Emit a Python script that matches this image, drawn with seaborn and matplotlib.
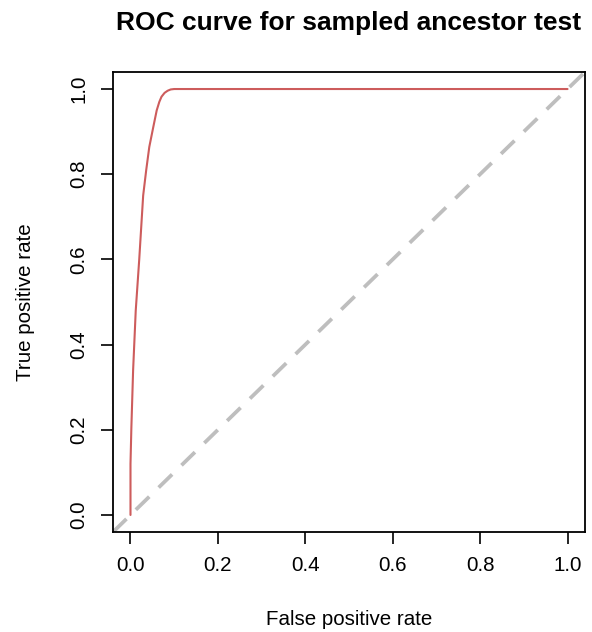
import seaborn as sns
import matplotlib.pyplot as plt
import pandas as pd

# ROC points
fpr = [0.0, 0.0, 0.002, 0.006, 0.012, 0.02, 0.029, 0.036, 0.043, 0.052, 0.06, 0.066, 0.071, 0.078, 0.085, 0.092, 0.1, 1.0]
tpr = [0.0, 0.12, 0.205, 0.34, 0.48, 0.6, 0.75, 0.81, 0.864, 0.91, 0.95, 0.97, 0.982, 0.991, 0.996, 0.999, 1.0, 1.0]
ticks = [0.0, 0.2, 0.4, 0.6, 0.8, 1.0]

sns.set_style("ticks")
plt.rcParams['font.family'] = ['Liberation Sans', 'DejaVu Sans']
plt.rcParams['text.color'] = 'black'

fig = plt.figure(figsize=(5.92, 6.32), dpi=100)
ax = fig.add_axes([0.1909, 0.1582, 0.7973, 0.7279])

ax.axline((0, 0), (1, 1), color="#BEBEBE", lw=2.7, ls=(0, (5, 3.5)), zorder=1)
roc = pd.DataFrame({"fpr": fpr, "tpr": tpr})
sns.lineplot(data=roc, x="fpr", y="tpr", color="#CD5C5C", lw=1.5, sort=False,
             estimator=None, ax=ax, zorder=2)

fs = 14.8
ax.set_xlim(-0.04, 1.04)
ax.set_ylim(-0.04, 1.04)
ax.set_xticks(ticks)
ax.set_yticks(ticks)
ax.set_xticklabels([f"{t:.1f}" for t in ticks], fontsize=fs, color="black")
ax.set_yticklabels([f"{t:.1f}" for t in ticks], fontsize=fs, rotation=90, va="center", color="black")
ax.tick_params(length=8.6, width=1.2, direction="out", pad=9, colors="black")
for s in ax.spines.values():
    s.set_linewidth(1.3)
    s.set_color("black")

ax.set_xlabel("False positive rate", fontsize=fs, color="black", va="center")
ax.set_ylabel("True positive rate", fontsize=fs, color="black", va="center")
ax.xaxis.set_label_coords(0.5, -0.191)
ax.yaxis.set_label_coords(-0.185, 0.5)
ax.set_title("ROC curve for sampled ancestor test", fontsize=19, fontweight="bold",
             color="black", y=1.0913, va="baseline", pad=0)

fig.savefig("out.png", dpi=100)
